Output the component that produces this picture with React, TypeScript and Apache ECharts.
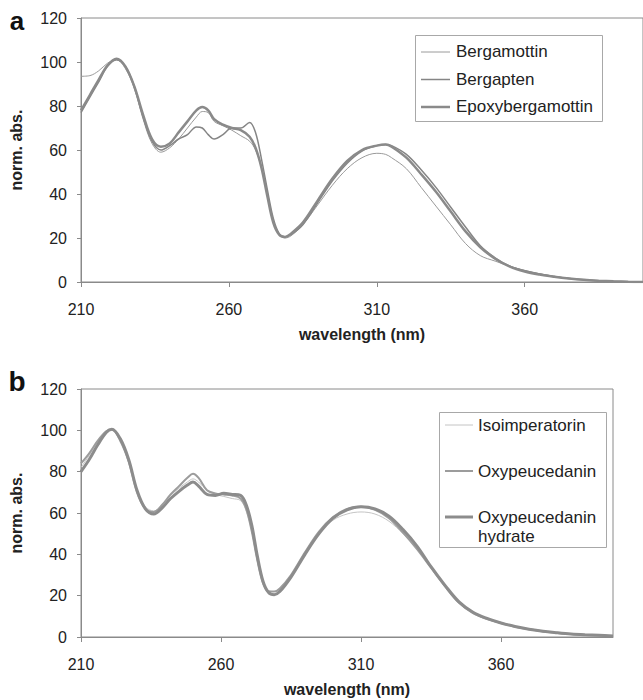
import React, { useEffect, useRef } from "react";
import * as echarts from "echarts";

// ---------- Panel a data ----------
const wavelengthsA = [210, 213, 216, 219, 222, 225, 228, 231, 234, 237, 240, 243, 246, 249, 251, 253, 255, 258, 261, 264, 267, 269, 271, 273, 275, 277, 279, 281, 285, 290, 295, 300, 305, 310, 313, 315, 320, 325, 330, 335, 340, 345, 350, 355, 360, 365, 370, 375, 380, 385, 390, 395, 400];
const bergamottin = [93.5, 93.8, 96, 99.5, 101, 97, 88, 74, 63, 59, 61, 65, 70, 75, 77.5, 77, 73, 71, 69, 66.5, 64, 60, 52, 40, 28, 21.5, 20, 21, 26, 35, 44, 51.5, 56.5, 58.5, 58, 56.5, 51.5, 43, 34.5, 26, 17.5, 12, 9.5, 7.2, 5.3, 3.8, 2.6, 1.7, 1.0, 0.6, 0.3, 0.1, 0];
const bergapten = [77, 84, 91, 98, 101, 98, 89, 75, 64, 60, 62, 65, 67, 70.5, 70, 67, 65, 67, 70, 70, 72.5, 68, 56, 42, 29, 22, 20.5, 21.5, 26, 36, 46, 54, 59.5, 62, 62.5, 62, 58, 51, 43, 34, 25, 16.5, 11, 7.2, 5.1, 3.6, 2.5, 1.6, 1.0, 0.6, 0.3, 0.1, 0];
const epoxybergamottin = [78, 85, 92, 98.5, 101.5, 98, 89, 76, 65, 61.5, 63, 68, 73, 78, 79.5, 78, 74, 71.5, 70, 69, 66, 61, 52, 39, 27, 21.5, 20.5, 22, 27, 37, 47, 55, 60, 62, 62.5, 61.5, 56.5, 49, 41, 32, 23, 15.8, 10.6, 7.0, 4.8, 3.4, 2.4, 1.6, 1.0, 0.6, 0.3, 0.1, 0];

// ---------- Panel b data ----------
const wavelengthsB = [210, 213, 216, 219, 221, 224, 227, 230, 233, 236, 239, 242, 245, 248, 250, 252, 255, 258, 261, 264, 267, 269, 271, 273, 275, 277, 279, 281, 285, 290, 295, 300, 305, 310, 315, 320, 325, 330, 335, 340, 345, 350, 355, 360, 365, 370, 375, 380, 385, 390, 395, 400];
const isoimperatorin = [82, 88, 94.5, 99.5, 100, 95.5, 86, 71, 63, 61, 64, 68.5, 72, 75, 76.5, 75, 71, 69, 68, 67, 66, 61, 51, 37, 27, 22.5, 22, 23, 29, 40, 50, 56.5, 59.5, 60.5, 59.5, 56, 50, 42.5, 33.5, 24.5, 16.5, 11.5, 8.6, 6.6, 4.9, 3.6, 2.6, 1.9, 1.3, 0.9, 0.6, 0.4];
const oxypeucedanin = [84, 89, 95, 99.5, 100.5, 95, 85, 70, 62, 60.5, 64, 69, 73, 77, 79, 77, 71, 69.5, 69, 68.5, 67, 62, 51, 37, 26, 22, 22, 23.5, 30, 41, 51, 58, 62, 63, 61.5, 57.5, 50.5, 42.5, 33.5, 24.5, 16.5, 11.5, 8.7, 6.8, 5.0, 3.7, 2.7, 2.0, 1.4, 1.0, 0.7, 0.5];
const oxypeucedaninHydrate = [80, 86, 93, 99, 100.5, 96, 86, 71, 62, 59.5, 62.5, 67, 70.5, 73.5, 75, 73, 69, 68.5, 69.5, 69, 68.5, 64, 54, 39, 27, 21.5, 20.5, 22, 29, 40, 50, 57.5, 61.5, 63, 62, 58.5, 52, 44, 34, 25, 17, 12, 9, 6.8, 5.1, 3.8, 2.8, 2.1, 1.5, 1.1, 0.8, 0.5];

const xTicks = [210, 260, 310, 360];
const seriesNamesA = ["Bergamottin", "Bergapten", "Epoxybergamottin"];
const seriesNamesB = ["Isoimperatorin", "Oxypeucedanin", "Oxypeucedanin\nhydrate"];

const FONT = "Liberation Sans, Arial, sans-serif";
const TXT = "#222";
const AX = "#8a8a8a";

const pairs = (xs: number[], ys: number[]) => xs.map((x, i) => [x, ys[i]]);

function xAxisCfg(gridIndex: number) {
  return {
    type: "value",
    gridIndex,
    min: 210,
    max: 400,
    name: "wavelength (nm)",
    nameLocation: "middle",
    nameGap: 44,
    nameTextStyle: { fontFamily: FONT, fontSize: 16, fontWeight: "bold", color: TXT },
    axisLine: { lineStyle: { color: AX, width: 1 } },
    axisTick: { show: true, length: 5, inside: false, customValues: xTicks, lineStyle: { color: AX } },
    axisLabel: { customValues: xTicks, fontFamily: FONT, fontSize: 16, color: TXT, margin: 19 },
    splitLine: { show: false },
  };
}

function yAxisCfg(gridIndex: number) {
  return {
    type: "value",
    gridIndex,
    min: 0,
    max: 120,
    interval: 20,
    name: "norm. abs.",
    nameLocation: "middle",
    nameRotate: 90,
    nameGap: 57,
    nameTextStyle: { fontFamily: FONT, fontSize: 16, fontWeight: "bold", color: TXT },
    axisLine: { show: true, lineStyle: { color: AX, width: 1 } },
    axisTick: { show: true, length: 4, lineStyle: { color: AX } },
    axisLabel: { fontFamily: FONT, fontSize: 16, color: TXT, margin: 14 },
    splitLine: { show: false },
  };
}

function lineSeries(name: string, xs: number[], ys: number[], idx: number, color: string, width: number) {
  return {
    type: "line",
    name,
    xAxisIndex: idx,
    yAxisIndex: idx,
    data: pairs(xs, ys),
    showSymbol: false,
    smooth: 0.35,
    lineStyle: { color, width },
    itemStyle: { color },
    z: 2 + width,
  };
}

export default function App() {
  const ref = useRef<HTMLDivElement>(null);
  useEffect(() => {
    if (!ref.current) return;
    const chart = echarts.init(ref.current, undefined, { renderer: "svg" });
    const stylesA = [
      { c: "#9a9a9a", w: 1 },
      { c: "#858585", w: 1.5 },
      { c: "#8a8a8a", w: 2.5 },
    ];
    const stylesB = [
      { c: "#c4c4c4", w: 1 },
      { c: "#9c9c9c", w: 2 },
      { c: "#8c8c8c", w: 3 },
    ];
    const legendA: any[] = [];
    seriesNamesA.forEach((n, i) => {
      const y = 52 + i * 27.5;
      legendA.push({ type: "line", z: 20, shape: { x1: 421, y1: y, x2: 450, y2: y }, style: { stroke: stylesA[i].c, lineWidth: stylesA[i].w } });
      legendA.push({ type: "text", z: 20, x: 456, y: y - 9, style: { text: n, font: `17px ${FONT}`, fontSize: 17, fill: TXT, verticalAlign: "top" } });
    });
    const legendBY = [425, 471, 517];
    const legendB: any[] = [];
    seriesNamesB.forEach((n, i) => {
      const y = legendBY[i];
      legendB.push({ type: "line", z: 20, shape: { x1: 445, y1: y, x2: 473, y2: y }, style: { stroke: stylesB[i].c, lineWidth: stylesB[i].w } });
      legendB.push({ type: "text", z: 20, x: 478, y: y - 9.5, style: { text: n, font: `17px ${FONT}`, fontSize: 17, lineHeight: 19, fill: TXT, verticalAlign: "top" } });
    });
    chart.setOption({
      animation: false,
      backgroundColor: "#fff",
      grid: [
        { left: 79, top: 18, width: 571, height: 264, show: true, borderColor: AX, borderWidth: 1, backgroundColor: "transparent" },
        { left: 79, top: 389, width: 534, height: 248, show: true, borderColor: AX, borderWidth: 1, backgroundColor: "transparent" },
      ],
      xAxis: [xAxisCfg(0), xAxisCfg(1)],
      yAxis: [yAxisCfg(0), yAxisCfg(1)],
      series: [
        lineSeries(seriesNamesA[0], wavelengthsA, bergamottin, 0, stylesA[0].c, stylesA[0].w),
        lineSeries(seriesNamesA[1], wavelengthsA, bergapten, 0, stylesA[1].c, stylesA[1].w),
        lineSeries(seriesNamesA[2], wavelengthsA, epoxybergamottin, 0, stylesA[2].c, stylesA[2].w),
        lineSeries(seriesNamesB[0], wavelengthsB, isoimperatorin, 1, stylesB[0].c, stylesB[0].w),
        lineSeries(seriesNamesB[1], wavelengthsB, oxypeucedanin, 1, stylesB[1].c, stylesB[1].w),
        lineSeries(seriesNamesB[2], wavelengthsB, oxypeucedaninHydrate, 1, stylesB[2].c, stylesB[2].w),
      ],
      graphic: [
        { type: "text", x: 17, y: 21, style: { text: "a", font: `bold 26px ${FONT}`, fontSize: 26, fontWeight: "bold", fill: "#111", align: "center", verticalAlign: "middle" } },
        { type: "text", x: 17, y: 381, style: { text: "b", font: `bold 28px ${FONT}`, fontSize: 28, fontWeight: "bold", fill: "#111", align: "center", verticalAlign: "middle" } },
        { type: "rect", z: 10, shape: { x: 415.5, y: 35.5, width: 187, height: 86 }, style: { fill: "#fff", stroke: "#a8a8a8", lineWidth: 1 } },
        { type: "rect", z: 10, shape: { x: 439.5, y: 412.5, width: 167, height: 135 }, style: { fill: "#fff", stroke: "#a8a8a8", lineWidth: 1 } },
        ...legendA,
        ...legendB,
      ],
    });
    return () => chart.dispose();
  }, []);
  return <div ref={ref} style={{ position: "absolute", left: 0, top: 0, width: 643, height: 700 }} />;
}
